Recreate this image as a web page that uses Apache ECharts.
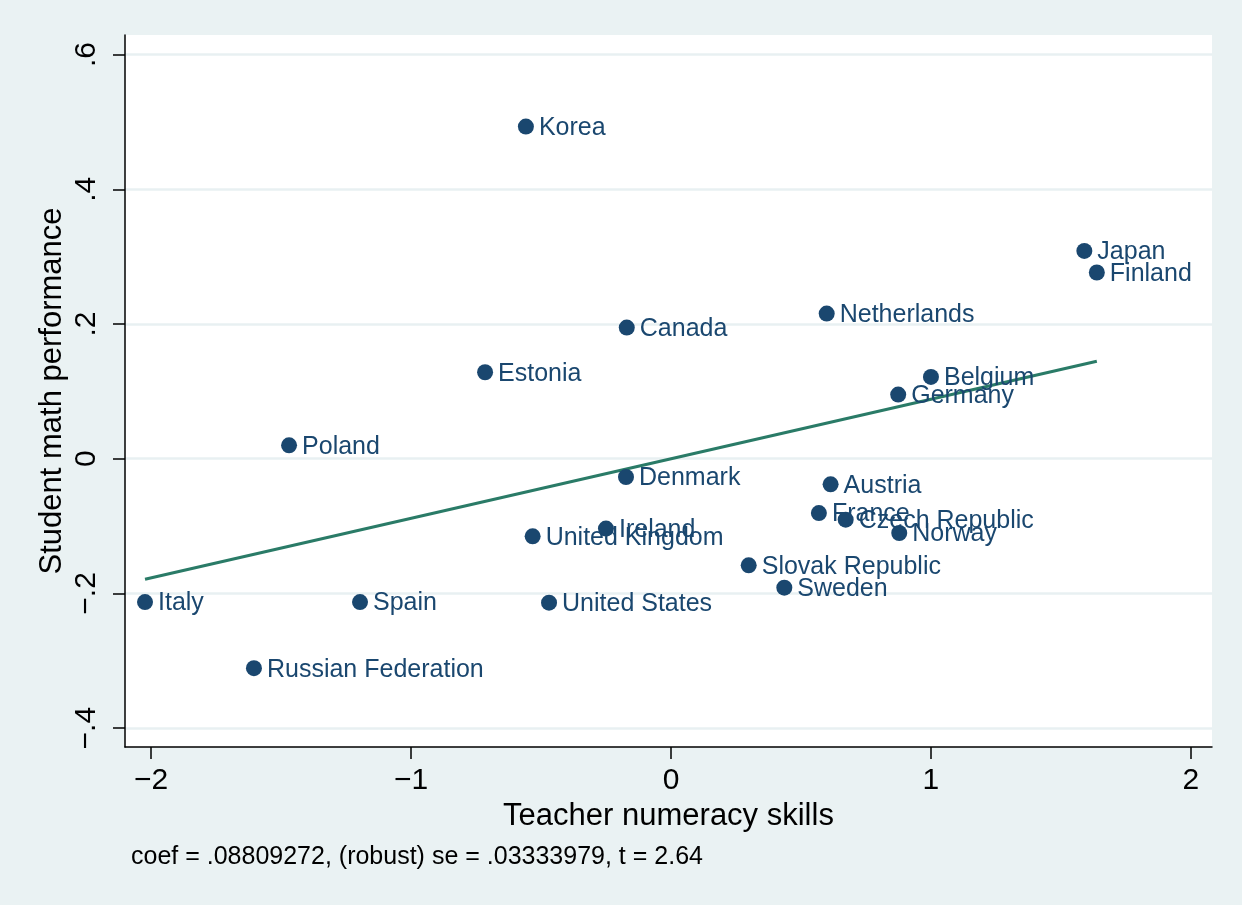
<!DOCTYPE html>
<html>
<head>
<meta charset="utf-8">
<script src="https://cdn.jsdelivr.net/npm/echarts@6/dist/echarts.min.js"></script>
<style>
html,body{margin:0;padding:0;background:#EAF2F3;}
#chart{width:1242px;height:905px;}
</style>
</head>
<body>
<div id="chart"></div>
<script>
const countries = ["Korea","Japan","Finland","Netherlands","Belgium","Germany","Canada","Estonia","Poland","Denmark","Ireland","United Kingdom","United States","Austria","France","Czech Republic","Norway","Slovak Republic","Sweden","Italy","Spain","Russian Federation"];
const teacherSkills = [-0.558,1.590,1.638,0.599,1.000,0.874,-0.170,-0.715,-1.469,-0.173,-0.250,-0.532,-0.469,0.614,0.569,0.672,0.878,0.299,0.436,-2.023,-1.196,-1.604];
const studentMath = [0.493,0.3085,0.2764,0.2155,0.1214,0.0952,0.1947,0.1283,0.0199,-0.0272,-0.1038,-0.1153,-0.2138,-0.038,-0.0807,-0.0905,-0.1103,-0.1583,-0.1915,-0.2128,-0.2128,-0.311];
const fitX = [-2.023, 1.638];
const fitY = [-0.179, 0.1447];
const xTicks = [-2,-1,0,1,2];
const xTickLabels = ["\u22122","\u22121","0","1","2"];
const yTicks = [-0.4,-0.2,0,0.2,0.4,0.6];
const yTickLabels = ["\u2212.4","\u2212.2","0",".2",".4",".6"];
const xTitle = "Teacher numeracy skills";
const yTitle = "Student math performance";
const note = "coef = .08809272, (robust) se = .03333979, t = 2.64";

const FONT = "'Liberation Sans', Arial, sans-serif";
const navy = "#1A476F";
const chart = echarts.init(document.getElementById('chart'), null, {renderer:'canvas'});

function labelFor(list, labels){
  return function(v){
    for (let i=0;i<list.length;i++){ if (Math.abs(list[i]-v)<1e-6) return labels[i]; }
    return '';
  };
}

const points = countries.map((c,i)=>({name:c, value:[teacherSkills[i], studentMath[i]]}));

chart.setOption({
  backgroundColor:'#EAF2F3',
  animation:false,
  grid:{left:125, right:30, top:35, bottom:158, show:true, backgroundColor:'#FFFFFF', borderWidth:0, containLabel:false},
  xAxis:{
    type:'value', min:-2.1, max:2.081,
    axisLine:{show:true, onZero:false, lineStyle:{color:'#000', width:1.5}},
    axisTick:{show:true, length:12, customValues:xTicks, lineStyle:{color:'#000', width:1.5}},
    axisLabel:{customValues:xTicks, formatter:labelFor(xTicks,xTickLabels), color:'#000', fontFamily:FONT, fontSize:30, margin:19},
    splitLine:{show:false},
    name:xTitle, nameLocation:'middle', nameGap:53,
    nameTextStyle:{color:'#000', fontFamily:FONT, fontSize:31}
  },
  yAxis:{
    type:'value', min:-0.428, max:0.629,
    axisLine:{show:true, onZero:false, lineStyle:{color:'#000', width:1.5}},
    axisTick:{show:true, length:12, customValues:yTicks, lineStyle:{color:'#000', width:1.5}},
    axisLabel:{customValues:yTicks, formatter:labelFor(yTicks,yTickLabels), rotate:90, color:'#000', fontFamily:FONT, fontSize:30, margin:23},
    splitLine:{show:true, lineStyle:{color:'#E8F0F2', width:2.5}}
  },
  graphic:[
    {type:'text', x:52, y:391, rotation:Math.PI/2,
     style:{text:yTitle, font:'31px ' + FONT, fill:'#000', align:'center', verticalAlign:'middle'}},
    {type:'text', left:131, top:845, style:{text:note, font:'25px ' + FONT, fill:'#000'}}
  ],
  series:[
    {
      type:'line', data:fitX.map((x,i)=>[x,fitY[i]]), showSymbol:false, symbol:'none',
      lineStyle:{color:'#2A7B67', width:3}, z:3, silent:true
    },
    {
      type:'scatter', data:points, symbol:'circle', symbolSize:16,
      itemStyle:{color:navy, borderWidth:0, opacity:1}, z:4,
      label:{show:true, position:'right', distance:5, offset:[0,1.5], formatter:'{b}', color:navy, opacity:1, fontFamily:FONT, fontSize:25}
    }
  ]
});
</script>
</body>
</html>
